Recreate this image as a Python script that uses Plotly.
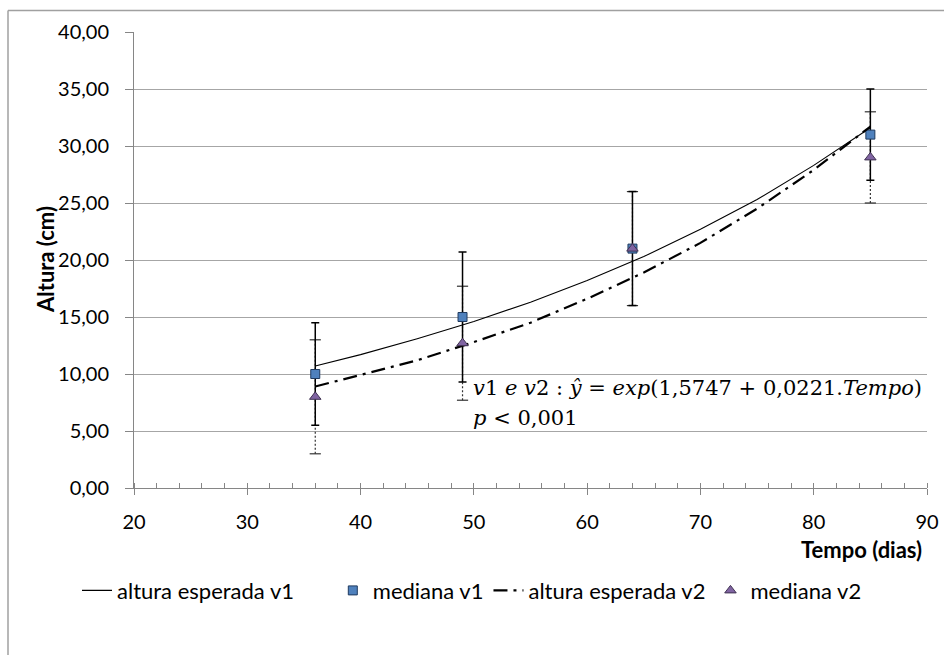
import plotly.graph_objects as go

# ---- data ----
t_fit = [36, 40, 45, 50, 55, 60, 65, 70, 75, 80, 85]
v1_fit = [10.7, 11.7, 13.1, 14.6, 16.3, 18.2, 20.3, 22.7, 25.3, 28.3, 31.6]
v2_fit = [8.9, 9.9, 11.2, 12.8, 14.5, 16.6, 18.9, 21.5, 24.5, 27.9, 31.7]

t_med = [36, 49, 64, 85]
v1_med = [10.0, 15.0, 21.0, 31.0]
v1_err = [4.5, 5.7, 5.0, 4.0]
v2_med = [8.0, 12.7, 21.0, 29.0]
v2_err = [5.0, 5.0, 5.0, 4.0]

y_ticks = [0, 5, 10, 15, 20, 25, 30, 35, 40]
x_ticks = [20, 30, 40, 50, 60, 70, 80, 90]

FONT = "Lato"
GRID = "#A6A6A6"
NB = "\u00a0"

fig = go.Figure()

# v2 error bars (dotted) built from the data
ex, ey, cx, cy = [], [], [], []
for t, m, e in zip(t_med, v2_med, v2_err):
    ex += [t, t, None]
    ey += [m - e, m + e, None]
    cx += [t, t]
    cy += [m - e, m + e]
fig.add_trace(go.Scatter(x=ex, y=ey, mode="lines", showlegend=False, hoverinfo="skip",
                         line=dict(color="#333333", width=1.2, dash="2px,2px")))
fig.add_trace(go.Scatter(x=cx, y=cy, mode="markers", showlegend=False, hoverinfo="skip",
                         marker=dict(symbol="line-ew", size=8, line=dict(color="#333333", width=1.2))))

fig.add_trace(go.Scatter(x=t_fit, y=v1_fit, mode="lines", name="altura esperada v1" + NB * 6,
                         line=dict(color="black", width=1.1)))
fig.add_trace(go.Scatter(x=t_med, y=v1_med, mode="markers", name="mediana v1",
                         marker=dict(symbol="square", size=9, color="#4F81BD",
                                     line=dict(color="#1F3A5F", width=1)),
                         error_y=dict(type="data", array=v1_err, color="black",
                                      thickness=1.5, width=4)))
fig.add_trace(go.Scatter(x=t_fit, y=v2_fit, mode="lines", name="altura esperada v2",
                         line=dict(color="black", width=2.2, dash="14px,6px,3px,6px")))
fig.add_trace(go.Scatter(x=t_med, y=v2_med, mode="markers", name="mediana v2",
                         marker=dict(symbol="triangle-up", size=10, color="#8064A2",
                                     line=dict(color="#3F3151", width=1))))

fig.update_layout(
    width=944, height=655,
    margin=dict(l=134, r=17, t=32, b=167),
    paper_bgcolor="white", plot_bgcolor="white",
    separators=", ",
    font=dict(family=FONT, size=20, color="black"),
    showlegend=True,
    legend=dict(orientation="h", x=(77 - 134) / 793, xanchor="left", y=-0.225, yanchor="middle",
                font=dict(family=FONT, size=22, color="black"), itemwidth=30,
                bgcolor="rgba(0,0,0,0)"),
)

fig.update_xaxes(range=[20, 90], tickvals=x_ticks, ticktext=[str(v) for v in x_ticks],
                 automargin=False,
                 showgrid=False, zeroline=False, showline=True, linecolor="#868686", linewidth=1,
                 ticks="outside", ticklen=6, tickcolor="#868686", tickwidth=1,
                 ticklabelstandoff=10,
                 minor=dict(dtick=2, tick0=20, ticks="inside", ticklen=5, tickcolor="#868686"),
                 tickfont=dict(family=FONT, size=20))
fig.update_yaxes(range=[0, 40], tickvals=y_ticks, tickformat=".2f",
                 automargin=False,
                 showgrid=True, gridcolor=GRID, gridwidth=1, zeroline=False,
                 showline=True, linecolor="#868686", linewidth=1,
                 ticks="outside", ticklen=8, tickcolor="#868686", tickwidth=1,
                 ticklabelstandoff=12,
                 tickfont=dict(family=FONT, size=20))

# axis titles
fig.add_annotation(text="<b>Altura (cm)</b>", xref="paper", yref="paper",
                   x=-0.1122, y=0.5, xanchor="center", yanchor="middle", textangle=-90,
                   showarrow=False, font=dict(family=FONT, size=22, color="black"))
fig.add_annotation(text="<b>Tempo (dias)</b>", xref="paper", yref="paper",
                   x=(924 - 134) / 793, y=-0.1348, xanchor="right", yanchor="middle",
                   showarrow=False, font=dict(family=FONT, size=22, color="black"))

# equation
MATH = "DejaVu Serif"
fig.add_annotation(text="<i>v</i>1 <i>e</i> <i>v</i>2 : <i>ŷ</i> = <i>exp</i>(1,5747 + 0,0221.<i>Tempo</i>)",
                   xref="paper", yref="paper", x=(471 - 134) / 793, y=(488.4 - 388) / 456.9,
                   xanchor="left", yanchor="middle", showarrow=False,
                   font=dict(family=MATH, size=21, color="black"))
fig.add_annotation(text="<i>p</i> &lt; 0,001",
                   xref="paper", yref="paper", x=(471 - 134) / 793, y=(488.4 - 418) / 456.9,
                   xanchor="left", yanchor="middle", showarrow=False,
                   font=dict(family=MATH, size=21, color="black"))

# outer chart border (partly cropped in the reference)
bx = (8 - 134) / 793
by = (488.4 - 10) / 456.9
fig.add_shape(type="line", xref="paper", yref="paper", x0=bx, y0=by, x1=1.2, y1=by,
              line=dict(color="#A0A0A0", width=1.5))
fig.add_shape(type="line", xref="paper", yref="paper", x0=bx, y0=by, x1=bx, y1=-0.5,
              line=dict(color="#A0A0A0", width=1.5))

fig.write_html("out.html", config={"displayModeBar": False},
               post_script="document.body.style.margin='0';document.body.style.overflow='hidden';")
